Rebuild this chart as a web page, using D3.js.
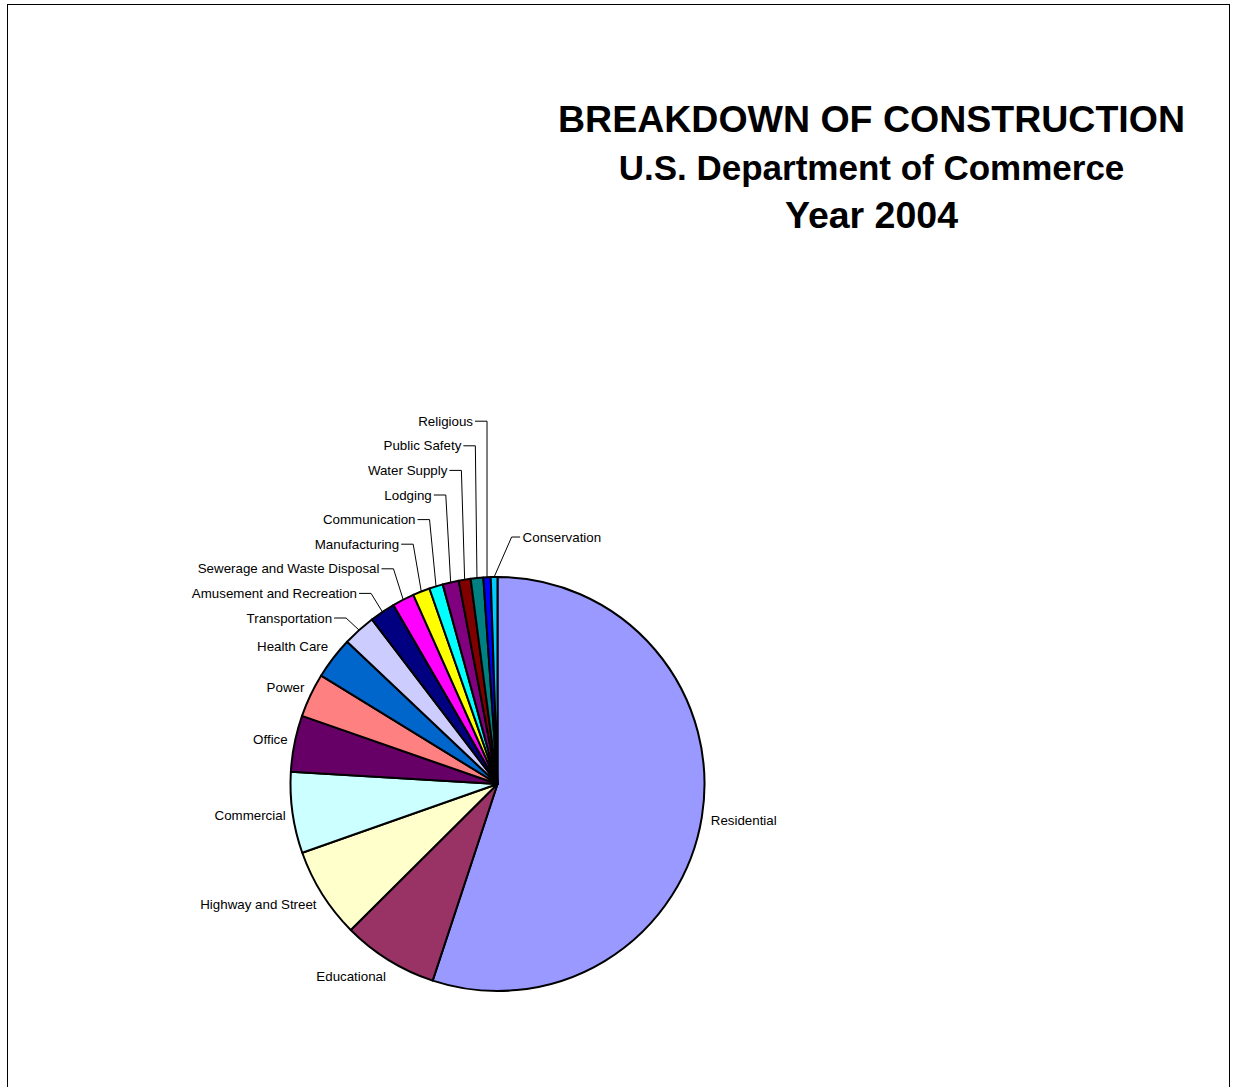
<!DOCTYPE html>
<html>
<head>
<meta charset="utf-8">
<script src="https://cdn.jsdelivr.net/npm/d3@7"></script>
<style>
  html, body { margin: 0; padding: 0; background: #fff; }
  svg { display: block; }
  text { font-family: "Liberation Sans", Arial, sans-serif; }
</style>
</head>
<body>
<svg id="chart" width="1233" height="1087"></svg>
<script>
// Construction spending by type, 2004 (billions of dollars, estimated)
const categories = [
  "Residential", "Educational", "Highway and Street", "Commercial", "Office",
  "Power", "Health Care", "Transportation", "Amusement and Recreation",
  "Sewerage and Waste Disposal", "Manufacturing", "Communication", "Lodging",
  "Water Supply", "Public Safety", "Religious", "Conservation"
];
const spending = [
  550.3, 74.7, 70.6, 63.3, 43.9,
  34.4, 32.8, 25.6, 19.9,
  17.2, 13.3, 10.7, 12.6,
  9.3, 9.8, 5.7, 5.2
];
const sliceColors = [
  "#9999FF", "#993366", "#FFFFCC", "#CCFFFF", "#660066",
  "#FF8080", "#0066CC", "#CCCCFF", "#000080",
  "#FF00FF", "#FFFF00", "#00FFFF", "#800080",
  "#800000", "#008080", "#0000FF", "#00CCFF"
];
const titleLines = [
  "BREAKDOWN OF CONSTRUCTION",
  "U.S. Department of Commerce",
  "Year 2004"
];

const svg = d3.select("#chart");

// outer frame
svg.append("rect")
  .attr("x", 7.5).attr("y", 4.5)
  .attr("width", 1222).attr("height", 1100)
  .attr("fill", "none").attr("stroke", "#000").attr("stroke-width", 1);

// title block
const titleSizes = [37.5, 35, 37.5];
const titleBaselines = [132, 180, 228];
svg.append("g").selectAll("text")
  .data(titleLines)
  .join("text")
  .attr("x", 871.5)
  .attr("y", (d, i) => titleBaselines[i])
  .attr("text-anchor", "middle")
  .attr("font-weight", "bold")
  .attr("font-size", (d, i) => titleSizes[i])
  .attr("fill", "#000")
  .text(d => d);

// pie
const cx = 497.5, cy = 784, r = 207;
const data = categories.map((name, i) => ({ name, value: spending[i], color: sliceColors[i] }));
const pie = d3.pie().sort(null).value(d => d.value).startAngle(0).endAngle(2 * Math.PI);
const arcs = pie(data);
const arc = d3.arc().innerRadius(0).outerRadius(r);

const g = svg.append("g").attr("transform", `translate(${cx},${cy})`);
g.selectAll("path")
  .data(arcs)
  .join("path")
  .attr("d", arc)
  .attr("fill", d => d.data.color)
  .attr("stroke", "#000")
  .attr("stroke-width", 2)
  .attr("stroke-linejoin", "round");

// labels
const fontSize = 13.33;
const mid = d => (d.startAngle + d.endAngle) / 2;
const polar = (a, rad) => [rad * Math.sin(a), -rad * Math.cos(a)];
const smallArc = d => (d.endAngle - d.startAngle) < 10 * Math.PI / 180;

const labels = svg.append("g").attr("font-size", fontSize).attr("fill", "#000");
const leaders = svg.append("g").attr("fill", "none").attr("stroke", "#000").attr("stroke-width", 1);

// large slices: label sits just outside the rim at the mid-angle
arcs.filter(d => !smallArc(d)).forEach(d => {
  const a = mid(d);
  const [px, py] = polar(a, r + 9);
  labels.append("text")
    .attr("x", cx + px + (Math.sin(a) >= 0 ? 0 : 2))
    .attr("y", cy + py - Math.cos(a) * 10)
    .attr("dy", "0.35em")
    .attr("text-anchor", Math.sin(a) >= 0 ? "start" : "end")
    .text(d.data.name);
});

// small slices: stacked labels with elbow leader lines
const small = arcs.filter(d => smallArc(d));
const nearTop = d => (2 * Math.PI - mid(d)) < 1.5 * Math.PI / 180;
const leftStack = small.filter(d => !nearTop(d));
const rightStack = small.filter(d => nearTop(d));
const step = 24.6;

leftStack.forEach((d, k) => {
  const a = mid(d);
  const [rx, ry] = polar(a, r);
  const ly = cy - 166 - k * step;
  const ex = cx + rx - 13 * (1 - k / (leftStack.length - 1));
  leaders.append("polyline")
    .attr("points", [[ex - 12, ly], [ex, ly], [cx + rx, cy + ry]].map(p => p.join(",")).join(" "));
  labels.append("text")
    .attr("x", ex - 14)
    .attr("y", ly)
    .attr("dy", "0.35em")
    .attr("text-anchor", "end")
    .text(d.data.name);
});

rightStack.forEach((d, k) => {
  const a = mid(d);
  const [rx, ry] = polar(a, r);
  const ex = cx + rx + 17.5;
  const ly = cy + ry - 40 - k * step;
  leaders.append("polyline")
    .attr("points", [[cx + rx, cy + ry], [ex, ly], [ex + 8.5, ly]].map(p => p.join(",")).join(" "));
  labels.append("text")
    .attr("x", ex + 11)
    .attr("y", ly)
    .attr("dy", "0.35em")
    .attr("text-anchor", "start")
    .text(d.data.name);
});
</script>
</body>
</html>
